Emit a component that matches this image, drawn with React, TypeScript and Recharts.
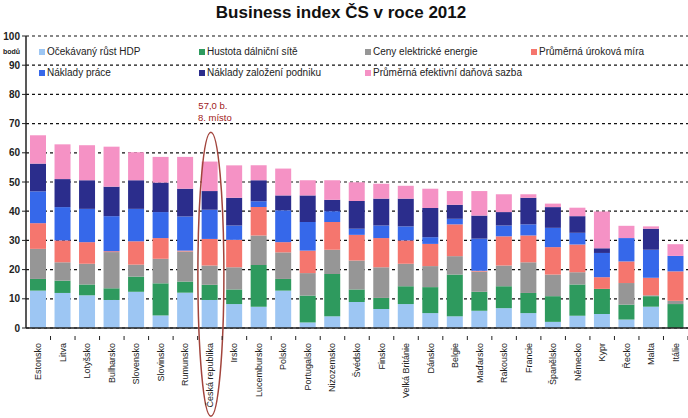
import { BarChart, Bar, XAxis, YAxis, CartesianGrid, ReferenceDot } from 'recharts'

const countries = [
  'Estonsko', 'Litva', 'Lotyšsko', 'Bulharsko', 'Slovensko', 'Slovinsko', 'Rumunsko',
  'Česká republika', 'Irsko', 'Lucembursko', 'Polsko', 'Portugalsko', 'Nizozemsko',
  'Švédsko', 'Finsko', 'Velká Británie', 'Dánsko', 'Belgie', 'Maďarsko', 'Rakousko',
  'Francie', 'Španělsko', 'Německo', 'Kypr', 'Řecko', 'Malta', 'Itálie',
]

const rustHdp = [12.8, 12.0, 11.2, 9.6, 12.4, 4.3, 12.1, 9.6, 8.2, 7.3, 12.8, 1.9, 4.0, 8.9, 6.5, 8.2, 5.1, 4.0, 5.9, 6.8, 5.1, 2.1, 4.2, 4.8, 2.9, 7.3, 0]
const dalnice = [4.0, 4.2, 3.7, 4.0, 5.2, 11.0, 3.8, 5.2, 5.0, 14.3, 4.0, 9.2, 14.5, 4.3, 3.8, 6.1, 8.9, 14.3, 6.5, 7.5, 6.9, 8.8, 10.7, 8.6, 5.1, 3.6, 8.2]
const energie = [10.3, 6.3, 7.1, 12.4, 4.1, 8.4, 10.3, 6.6, 7.6, 10.1, 9.1, 7.7, 8.3, 9.9, 10.5, 7.7, 7.2, 6.3, 6.9, 7.1, 10.5, 7.4, 4.2, 0, 7.4, 0.3, 1.1]
const urok = [8.8, 7.5, 7.4, 0.3, 8.0, 7.1, 0.3, 9.1, 9.4, 9.7, 3.5, 7.7, 9.5, 8.8, 10.0, 8.0, 7.6, 10.9, 0.3, 10.0, 9.2, 9.4, 9.5, 4.0, 7.4, 6.0, 10.1]
const prace = [10.9, 11.4, 11.4, 12.0, 11.1, 8.9, 11.7, 10.0, 4.9, 2.0, 10.9, 9.8, 3.7, 2.1, 4.3, 4.8, 2.3, 1.9, 11.0, 3.7, 3.8, 6.6, 4.0, 8.3, 8.0, 9.6, 5.3]
const zalozeni = [9.5, 9.6, 9.8, 10.1, 9.8, 10.1, 9.5, 6.4, 9.5, 7.2, 5.1, 9.1, 3.9, 9.5, 9.2, 9.5, 10.0, 4.8, 7.9, 4.6, 9.1, 7.1, 5.7, 1.6, 0, 7.2, 0]
const dan = [9.7, 11.9, 12.0, 13.7, 9.6, 8.8, 10.9, 10.1, 11.1, 5.1, 9.2, 5.2, 6.7, 6.4, 5.1, 4.4, 6.6, 4.7, 8.4, 6.1, 1.2, 1.2, 2.9, 12.6, 4.2, 0.8, 4.0]

const yTicks = [0, 10, 20, 30, 40, 50, 60, 70, 80, 90, 100]

const series = [
  { key: 'hdp', name: 'Očekávaný růst HDP', color: '#9dc6f3', values: rustHdp },
  { key: 'dalnice', name: 'Hustota dálniční sítě', color: '#2e9a5e', values: dalnice },
  { key: 'energie', name: 'Ceny elektrické energie', color: '#969696', values: energie },
  { key: 'urok', name: 'Průměrná úroková míra', color: '#f5766e', values: urok },
  { key: 'prace', name: 'Náklady práce', color: '#3668ea', values: prace },
  { key: 'zalozeni', name: 'Náklady založení podniku', color: '#2b2d8c', values: zalozeni },
  { key: 'dan', name: 'Průměrná efektivní daňová sazba', color: '#f592c5', values: dan },
]

const data = countries.map((country, i) => {
  const row: Record<string, string | number> = { country }
  series.forEach((s) => {
    row[s.key] = s.values[i]
  })
  return row
})

const FONT = '"Liberation Sans", Arial, sans-serif'
const W = 688
const H = 418
const HALF_BAND = (W - 26) / countries.length / 2

function CountryTick(props: any) {
  const { x, y, payload } = props
  return (
    <g transform={`translate(${x},${y})`}>
      <line x1={HALF_BAND} x2={HALF_BAND} y1={0} y2={4} stroke="#222" />
      <text transform="rotate(-90)" x={-7} y={3} textAnchor="end" fontSize={9} fill="#222" fontFamily={FONT}>
        {payload.value}
      </text>
    </g>
  )
}

// legend: two rows, four columns
const legendCols = [39, 199, 365, 531]

export default function App() {
  return (
    <div style={{ position: 'absolute', left: 0, top: 0, width: W, height: H, background: '#fff', fontFamily: FONT }}>
      <div style={{ position: 'absolute', top: 3, left: 0, width: W - 6, textAlign: 'center', fontSize: 17, fontWeight: 'bold', color: '#111' }}>
        Business index ČS v roce 2012
      </div>
      <BarChart width={W} height={H} data={data} margin={{ top: 36, right: 0, bottom: 2, left: 0 }}>
        <CartesianGrid vertical={false} strokeDasharray="3 3" stroke="#111" strokeWidth={1.2} />
        <XAxis
          dataKey="country"
          interval={0}
          height={88}
          tickLine={false}
          axisLine={{ stroke: '#222', strokeWidth: 1.5 }}
          tick={<CountryTick />}
        />
        <YAxis
          width={26}
          domain={[0, 100]}
          ticks={yTicks}
          tickSize={4}
          axisLine={{ stroke: '#222', strokeWidth: 1.5 }}
          tickLine={{ stroke: '#222' }}
          tick={{ fontSize: 10, fontWeight: 'bold', fill: '#222', fontFamily: FONT }}
        />
        {series.map((s) => (
          <Bar key={s.key} dataKey={s.key} name={s.name} stackId="a" fill={s.color} barSize={16} isAnimationActive={false} />
        ))}
        <ReferenceDot
          x="Česká republika"
          y={18.4}
          r={0}
          shape={(p: any) => (
            <ellipse cx={p.cx + 1} cy={p.cy} rx={13} ry={142} fill="none" stroke="#a2443c" strokeWidth={1.5} />
          )}
        />
        <ReferenceDot
          x="Česká republika"
          y={75}
          r={0}
          shape={(p: any) => (
            <text x={p.cx + 3} y={p.cy} textAnchor="middle" fontSize={9.5} fill="#a01818" fontFamily={FONT}>
              <tspan x={p.cx + 3} dy={0}>57,0 b.</tspan>
              <tspan x={p.cx + 5} dy={12}>8. místo</tspan>
            </text>
          )}
        />
      </BarChart>
      <div style={{ position: 'absolute', left: 3, top: 48, fontSize: 7, fontWeight: 'bold', color: '#222' }}>bodů</div>
      {series.map((s, i) => (
        <div
          key={s.key}
          style={{
            position: 'absolute',
            left: legendCols[i % 4],
            top: i < 4 ? 46 : 67,
            fontSize: 10,
            color: '#222',
            display: 'flex',
            alignItems: 'center',
            whiteSpace: 'nowrap',
          }}
        >
          <span style={{ display: 'inline-block', width: 6, height: 6, background: s.color, marginRight: 2 }} />
          {s.name}
        </div>
      ))}
    </div>
  )
}
